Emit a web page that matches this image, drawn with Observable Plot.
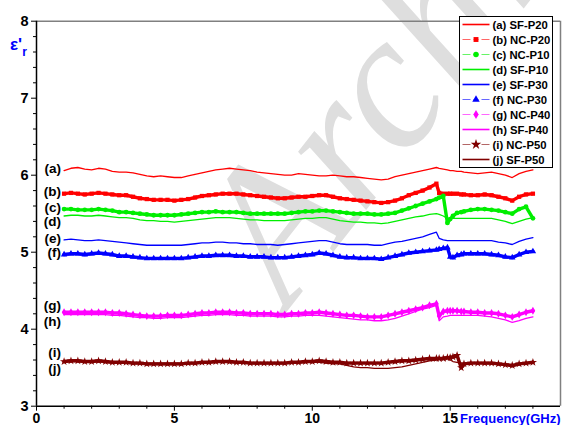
<!DOCTYPE html>
<html><head><meta charset="utf-8">
<script src="https://cdn.jsdelivr.net/npm/d3@7"></script>
<script src="https://cdn.jsdelivr.net/npm/@observablehq/plot@0.6"></script>
<style>html,body{margin:0;padding:0;background:#fff;}</style>
</head><body><div id="chart"></div>
<script>
// Frequency grid (GHz)
const freq = [
1,1.25,1.5,1.75, 2,2.25,2.5,2.75, 3,3.25,3.5,3.75, 4,4.25,4.5,4.75,
5,5.25,5.5,5.75, 6,6.25,6.5,6.75, 7,7.25,7.5,7.75, 8,8.25,8.5,8.75,
9,9.25,9.5,9.75, 10,10.25,10.5,10.75, 11,11.25,11.5,11.75, 12,12.25,12.5,12.75,
13,13.25,13.5,13.75, 14,14.25,14.5,
14.6,14.75,14.9,15,15.1,15.25,15.4,15.5,15.75,
16,16.25,16.5,16.75,17,17.25,17.5,17.75,18];

const sfP20 = [
6.06,6.09,6.10,6.08, 6.07,6.09,6.08,6.05, 6.04,6.04,6.03,6.01, 5.99,5.98,5.99,5.98,
5.97,5.97,5.99,6.01, 6.03,6.05,6.07,6.08, 6.09,6.08,6.07,6.06, 6.04,6.03,6.02,6.01,
6.00,6.00,6.02,6.01, 6.00,5.99,5.99,6.00, 5.99,5.98,5.98,5.97, 5.96,5.95,5.94,5.95,
5.98,6.00,6.02,6.04, 6.06,6.08,6.10,
6.09,6.08,6.07,6.06,6.06,6.05,6.05,6.04,6.03,
6.02,6.03,6.04,6.02,6.00,5.97,6.02,6.05,6.07];
const ncP20 = [
5.76,5.77,5.76,5.75, 5.76,5.77,5.76,5.75, 5.74,5.74,5.72,5.70, 5.69,5.68,5.68,5.68,
5.67,5.68,5.69,5.71, 5.73,5.74,5.75,5.76, 5.76,5.76,5.75,5.74, 5.73,5.72,5.71,5.70,
5.70,5.71,5.72,5.72, 5.73,5.74,5.74,5.72, 5.70,5.69,5.68,5.67, 5.66,5.65,5.64,5.65,
5.67,5.70,5.74,5.77, 5.80,5.84,5.89,
5.77,5.76,5.76,5.76,5.76,5.76,5.75,5.75,5.74,
5.74,5.75,5.74,5.72,5.70,5.67,5.72,5.75,5.76];
const ncP10 = [
5.56,5.56,5.55,5.55, 5.55,5.56,5.55,5.54, 5.52,5.52,5.51,5.50, 5.49,5.48,5.48,5.48,
5.48,5.49,5.50,5.51, 5.52,5.52,5.53,5.52, 5.52,5.52,5.51,5.50, 5.50,5.50,5.50,5.50,
5.50,5.51,5.52,5.53, 5.53,5.54,5.54,5.53, 5.52,5.51,5.50,5.50, 5.50,5.49,5.49,5.50,
5.51,5.54,5.57,5.60, 5.63,5.66,5.69,
5.71,5.73,5.38,5.43,5.47,5.51,5.52,5.53,5.55,
5.56,5.56,5.55,5.54,5.52,5.50,5.56,5.59,5.44];
const sfP10 = [
5.47,5.48,5.48,5.47, 5.47,5.48,5.47,5.46, 5.45,5.45,5.44,5.42, 5.41,5.41,5.40,5.40,
5.39,5.40,5.41,5.42, 5.43,5.44,5.45,5.45, 5.45,5.44,5.43,5.42, 5.42,5.41,5.41,5.41,
5.41,5.42,5.43,5.44, 5.44,5.45,5.45,5.43, 5.41,5.40,5.39,5.39, 5.38,5.38,5.37,5.38,
5.40,5.42,5.44,5.46, 5.47,5.49,5.50,
5.49,5.47,5.44,5.44,5.44,5.44,5.44,5.44,5.44,
5.44,5.44,5.44,5.42,5.40,5.37,5.40,5.43,5.45];
const sfP30 = [
5.16,5.17,5.16,5.15, 5.15,5.16,5.15,5.14, 5.13,5.12,5.11,5.10, 5.09,5.09,5.09,5.09,
5.09,5.09,5.10,5.11, 5.12,5.12,5.13,5.13, 5.12,5.12,5.11,5.11, 5.10,5.10,5.10,5.09,
5.10,5.11,5.12,5.13, 5.14,5.15,5.15,5.13, 5.11,5.10,5.10,5.10, 5.10,5.09,5.09,5.11,
5.13,5.14,5.16,5.18, 5.20,5.23,5.26,
5.18,5.16,5.15,5.15,5.15,5.15,5.15,5.15,5.15,
5.15,5.15,5.15,5.13,5.12,5.10,5.14,5.17,5.19];
const ncP30 = [
4.97,4.98,4.98,4.97, 4.98,4.99,4.98,4.97, 4.95,4.95,4.94,4.93, 4.92,4.92,4.92,4.92,
4.92,4.92,4.93,4.94, 4.95,4.95,4.96,4.96, 4.96,4.95,4.95,4.94, 4.94,4.94,4.93,4.93,
4.93,4.94,4.95,4.96, 4.97,4.99,4.98,4.96, 4.94,4.93,4.93,4.92, 4.92,4.92,4.91,4.93,
4.95,4.97,4.99,5.00, 5.01,5.02,5.03,
5.04,5.05,5.06,4.94,4.93,4.96,4.97,4.98,4.98,
4.98,4.98,4.97,4.96,4.94,4.93,4.97,5.00,5.01];
const ncP40 = [
4.22,4.22,4.22,4.22, 4.22,4.22,4.22,4.21, 4.21,4.20,4.19,4.18, 4.17,4.17,4.17,4.18,
4.18,4.18,4.19,4.20, 4.21,4.21,4.22,4.22, 4.22,4.21,4.21,4.20, 4.20,4.20,4.20,4.19,
4.19,4.20,4.20,4.21, 4.21,4.22,4.21,4.20, 4.19,4.18,4.18,4.17, 4.16,4.16,4.16,4.18,
4.20,4.22,4.24,4.26, 4.28,4.31,4.33,
4.17,4.23,4.24,4.24,4.24,4.24,4.23,4.23,4.22,
4.22,4.21,4.21,4.20,4.18,4.16,4.19,4.22,4.24];
const sfP40 = [
4.19,4.19,4.19,4.19, 4.19,4.19,4.19,4.18, 4.18,4.17,4.16,4.15, 4.15,4.14,4.14,4.15,
4.15,4.15,4.16,4.17, 4.18,4.18,4.19,4.19, 4.19,4.18,4.18,4.17, 4.17,4.17,4.17,4.16,
4.16,4.17,4.17,4.18, 4.18,4.18,4.17,4.16, 4.15,4.14,4.13,4.12, 4.12,4.11,4.11,4.12,
4.14,4.17,4.20,4.23, 4.26,4.28,4.31,
4.11,4.16,4.17,4.18,4.18,4.18,4.18,4.18,4.18,
4.18,4.17,4.16,4.14,4.12,4.09,4.11,4.14,4.16];
const ncP50 = [
3.58,3.59,3.59,3.58, 3.58,3.59,3.58,3.57, 3.57,3.57,3.56,3.56, 3.55,3.55,3.55,3.55,
3.55,3.55,3.56,3.56, 3.57,3.57,3.58,3.58, 3.58,3.57,3.57,3.56, 3.56,3.56,3.56,3.56,
3.56,3.57,3.57,3.58, 3.58,3.59,3.58,3.57, 3.57,3.56,3.56,3.56, 3.56,3.56,3.56,3.57,
3.58,3.59,3.59,3.60, 3.61,3.62,3.62,
3.62,3.62,3.63,3.63,3.64,3.66,3.50,3.55,3.56,
3.56,3.56,3.56,3.55,3.54,3.53,3.55,3.56,3.57];
const sfP50 = [
3.57,3.58,3.58,3.57, 3.57,3.58,3.57,3.56, 3.56,3.56,3.55,3.55, 3.54,3.54,3.54,3.54,
3.54,3.54,3.55,3.55, 3.56,3.56,3.57,3.57, 3.57,3.56,3.56,3.55, 3.55,3.55,3.55,3.55,
3.55,3.56,3.56,3.57, 3.57,3.57,3.56,3.55, 3.55,3.53,3.51,3.50, 3.50,3.49,3.49,3.49,
3.50,3.51,3.53,3.55, 3.57,3.59,3.60,
3.61,3.61,3.62,3.60,3.58,3.57,3.56,3.56,3.56,
3.56,3.55,3.55,3.54,3.53,3.51,3.54,3.55,3.56];

const seriesKeys   = ["(a)","(b)","(c)","(d)","(e)","(f)","(g)","(h)","(i)","(j)"];
const seriesNames  = ["SF-P20","NC-P20","NC-P10","SF-P10","SF-P30","NC-P30","NC-P40","SF-P40","NC-P50","SF-P50"];
const seriesValues = [sfP20, ncP20, ncP10, sfP10, sfP30, ncP30, ncP40, sfP40, ncP50, sfP50];
const labelY       = [6.09, 5.78, 5.58, 5.40, 5.18, 5.00, 4.31, 4.10, 3.70, 3.49];

const xTicks = [0, 5, 10, 15];
const xMinor = [1,2,3,4,6,7,8,9,11,12,13,14,16,17,18];
const yTicks = [3, 4, 5, 6, 7, 8];
const yMinor = [3.2,3.4,3.6,3.8,4.2,4.4,4.6,4.8,5.2,5.4,5.6,5.8,6.2,6.4,6.6,6.8,7.2,7.4,7.6,7.8];
const xLabel = "Frequency(GHz)";
const watermark = "Archive of SID";

// styles
const colors  = ["#FF0000","#FF0000","#00EE00","#00EE00","#0000FF","#0000FF","#FF00FF","#FF00FF","#800000","#800000"];
const symbols = [null,"square","circle",null,null,"triangle","diamond",null,"star",null];

const defs = seriesKeys.map((k, i) => ({
  key: k, name: seriesNames[i], color: colors[i], symbol: symbols[i], labelY: labelY[i],
  rows: freq.map((f, j) => ({f, v: seriesValues[i][j]}))
}));

const seriesMarks = [];
defs.forEach(d => {
  if (d.symbol) {
    seriesMarks.push(Plot.line(d.rows, {x: "f", y: "v", stroke: d.color, strokeWidth: 3.4}));
    seriesMarks.push(Plot.dot(d.rows, {x: "f", y: "v", symbol: () => d.symbol, fill: d.color, stroke: "none", r: d.symbol === "star" ? 2.6 : 2.4}));
  } else {
    seriesMarks.push(Plot.line(d.rows, {x: "f", y: "v", stroke: d.color, strokeWidth: 1.3}));
  }
});

const bold = {fontWeight: "bold"};
const chart = Plot.plot({
  width: 563, height: 425,
  marginLeft: 36, marginRight: 3, marginTop: 20.7, marginBottom: 19.3,
  x: {domain: [0, 19]},
  y: {domain: [3, 8]},
  style: {fontFamily: "'Liberation Sans', Arial, sans-serif", background: "white"},
  marks: [
    Plot.ruleY([8], {stroke: "#808080", strokeWidth: 1.5}),
    Plot.ruleX([19], {stroke: "#808080", strokeWidth: 1.5}),
    ...seriesMarks,
    Plot.ruleX([0], {stroke: "black", strokeWidth: 1.5}),
    Plot.ruleY([3], {stroke: "black", strokeWidth: 1.5}),
    Plot.axisX(xMinor, {tickSize: 3, tickFormat: () => "", label: null, stroke: "black"}),
    Plot.axisX(xTicks, {tickSize: 5, tickPadding: 2, tickFormat: "d", fontSize: 14, ...bold, label: null, stroke: "black", fill: "black"}),
    Plot.axisY(yMinor, {tickSize: 3, tickFormat: () => "", label: null, stroke: "black"}),
    Plot.axisY(yTicks, {tickSize: 5, tickPadding: 3, tickFormat: "d", fontSize: 14.5, ...bold, label: null, stroke: "black", fill: "black"}),
    Plot.text(defs, {x: () => freq[0], y: "labelY", text: "key", textAnchor: "end", dx: -3, fontSize: 13.5, ...bold, fill: "black"}),
    Plot.text([xLabel], {frameAnchor: "bottom-right", textAnchor: "end", lineAnchor: "middle", dy: 12.5, fill: "#0000FF", fontSize: 13, ...bold})
  ]
});
document.getElementById("chart").appendChild(chart);

const svg = d3.select(chart);
// watermark behind marks
svg.insert("text", "g")
  .attr("transform", "translate(288,310) rotate(-52)")
  .attr("text-anchor", "start")
  .attr("font-family", "'Liberation Serif', 'DejaVu Serif', serif")
  .attr("font-style", "italic")
  .attr("font-size", 195)
  .attr("fill", "#dedede")
  .text(watermark);

// y label epsilon'_r
const yl = svg.append("text").attr("x", 10).attr("y", 50).attr("text-anchor", "start")
  .attr("fill", "#0000FF").attr("font-weight", "bold")
  .attr("font-family", "'Liberation Sans', Arial, sans-serif");
yl.append("tspan").attr("font-size", 17).text("ε'");
yl.append("tspan").attr("font-size", 12).attr("dy", 6).text("r");

// legend
const lg = svg.append("g").attr("transform", "translate(459.5,16.5)");
lg.append("rect").attr("width", 93).attr("height", 151).attr("fill", "white").attr("stroke", "black").attr("stroke-width", 1);
const symMap = {square: d3.symbolSquare, circle: d3.symbolCircle, triangle: d3.symbolTriangle, diamond: d3.symbolDiamond, star: d3.symbolStar};
defs.forEach((d, i) => {
  const y = 8 + i * 15;
  const row = lg.append("g").attr("transform", `translate(0,${y})`);
  if (d.symbol) {
    row.append("line").attr("x1", 3).attr("x2", 30).attr("y1", 0).attr("y2", 0)
      .attr("stroke", d.color).attr("stroke-width", 1.2).attr("stroke-opacity", 0.6).attr("stroke-dasharray", "8,3,5,3,8");
    row.append("path").attr("d", d3.symbol(symMap[d.symbol], d.symbol === "star" ? 34 : 24)())
      .attr("transform", "translate(16.5,0)").attr("fill", d.color);
  } else {
    row.append("line").attr("x1", 3).attr("x2", 30).attr("y1", 0).attr("y2", 0)
      .attr("stroke", d.color).attr("stroke-width", 1.6);
  }
  row.append("text").attr("x", 33).attr("y", 0).attr("dy", "0.36em").attr("text-anchor", "start")
    .attr("font-size", 11.3).attr("font-weight", "bold").attr("fill", "black")
    .attr("font-family", "'Liberation Sans', Arial, sans-serif")
    .text(`${d.key} ${d.name}`);
});
</script></body></html>
